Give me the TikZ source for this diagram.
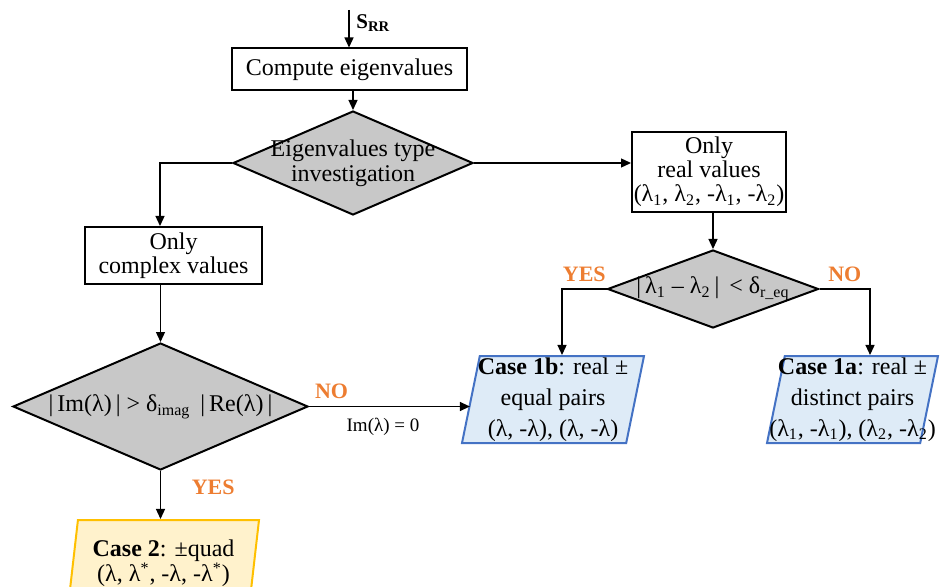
\documentclass[tikz,border=0pt]{standalone}
\usepackage{fontspec}
\setmainfont{Liberation Serif}
\usetikzlibrary{arrows.meta,calc,positioning,shapes.geometric}
\definecolor{cdec}{RGB}{200,200,200}
\definecolor{clab}{RGB}{237,125,49}
\definecolor{cblue}{RGB}{68,114,196}
\definecolor{cbluefill}{RGB}{222,235,247}
\definecolor{cgold}{RGB}{255,192,0}
\definecolor{cgoldfill}{RGB}{255,242,204}
\tikzset{
  proc/.style={rectangle,draw,line width=1pt,align=center,inner sep=0pt,
    font=\fontsize{12}{12}\selectfont},
  decision/.style={diamond,draw,line width=1pt,fill=cdec,align=center,
    inner xsep=-40pt,inner ysep=0pt,font=\fontsize{12}{12.5}\selectfont},
  result/.style={trapezium,trapezium left angle=78,trapezium right angle=102,
    trapezium stretches body,draw,line width=1pt,align=center,
    inner xsep=-10pt,inner ysep=0pt,minimum height=43.5pt,
    font=\fontsize{12}{15.5}\selectfont},
  % output cases: real pairs in blue, quadruples in gold
  casereal/.style={fill=cbluefill,draw=cblue},
  casequad/.style={fill=cgoldfill,draw=cgold},
  yn/.style={font=\fontsize{11}{13}\selectfont\bfseries,text=clab},
  smalllab/.style={font=\fontsize{9.5}{11}\selectfont},
  arr/.style={-{Triangle[length=5pt,width=4.5pt]},line width=0.65pt}
}

\begin{document}
\begin{tikzpicture}[x=0.5pt,y=-0.5pt]
  \path[use as bounding box,clip] (0,0) rectangle (940,587);
  \coordinate (in) at (349,10);
  \node[proc,minimum width=117.5pt,minimum height=21pt] (comp) at (349.5,69.5) {Compute eigenvalues};
  \node[decision,minimum width=120pt,minimum height=52pt] (type) at (353,163) {Eigenvalues type\\investigation};
  \node[proc,minimum width=77pt,minimum height=40pt] (real) at (709,172) {Only\\real values\\(λ\textsubscript{1}, λ\textsubscript{2}, -λ\textsubscript{1}, -λ\textsubscript{2})};
  \node[proc,minimum width=88.5pt,minimum height=28.5pt] (cplx) at (173.5,255.5) {Only\\complex values};
  \node[decision,minimum width=105.5pt,minimum height=39pt] (req) at (713,289) {|\,λ\textsubscript{1} – λ\textsubscript{2}\,| \,< δ\textsubscript{r\_eq}};
  \node[decision,minimum width=147.5pt,minimum height=63.5pt] (imag) at (160.5,406.5) {|\,Im(λ)\,| > δ\textsubscript{imag} \,|\,Re(λ)\,|};
  \node[result,casereal,minimum width=91pt] (c1b) at (553,399.5) {\textbf{Case 1b}: real ±\\equal pairs\\(λ, -λ), (λ, -λ)};
  \node[result,casereal,minimum width=85.5pt] (c1a) at (852.5,399.5) {\textbf{Case 1a}: real ±\\distinct pairs\\(λ\textsubscript{1}, -λ\textsubscript{1}), (λ\textsubscript{2}, -λ\textsubscript{2})};
  \node[result,casequad,minimum width=95.5pt,font=\fontsize{12}{12.5}\selectfont] (c2) at (163.5,563.5) {\textbf{Case 2}: ±quad\\(λ, λ\textsuperscript{*}, -λ, -λ\textsuperscript{*})};

  \draw[arr] (in) -- node[right,pos=0.35,font=\fontsize{10.5}{12}\selectfont]{\textbf{S}\textsubscript{\textbf{RR}}} (in |- comp.north);
  \draw[arr] (type.north |- comp.south) -- (type.north);
  \draw[arr] (type.west) -| ([xshift=-6.75pt]cplx.north);
  \draw[arr] (type.east) -- (type.east -| real.west);
  \draw[arr] (req.north |- real.south) -- (req.north);
  \draw[arr] (imag.north |- cplx.south) -- (imag.north);
  \draw[arr] (req.west) -| node[yn,pos=0.25,above]{YES} ([xshift=4.5pt]c1b.north);
  \draw[arr] (req.east) -| node[yn,pos=0.25,above]{NO} ([xshift=8.75pt]c1a.north);
  \draw[arr] (imag.east) -- node[yn,pos=0.14,above]{NO} node[smalllab,pos=0.46,below,yshift=-2pt]{Im(λ) = 0} (imag.east -| c1b.west);
  \draw[arr] (imag.south) -- node[yn,pos=0.34,right=12pt]{YES} (imag.south |- c2.north);
\end{tikzpicture}
\end{document}
